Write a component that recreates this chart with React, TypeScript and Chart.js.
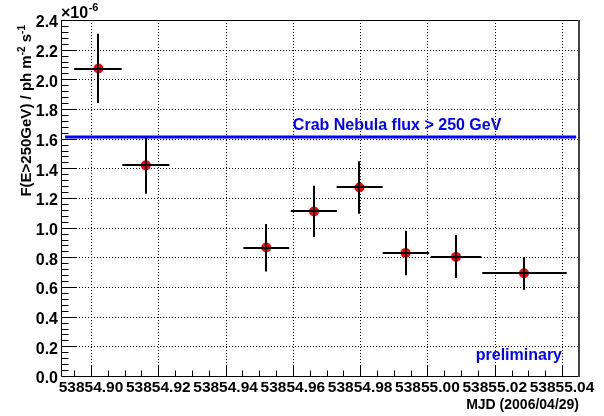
import React, { useEffect, useRef } from "react";
import { Chart, registerables } from "chart.js";

Chart.register(...registerables);

// ---- data (flux in units of 1e-6 ph m^-2 s^-1) ----
const xCenters = [53854.9022, 53854.9163, 53854.9521, 53854.9663, 53854.9798, 53854.9935, 53855.0085, 53855.0287];
const yValues = [2.073, 1.42, 0.866, 1.109, 1.271, 0.83, 0.803, 0.693];
const xLow = [53854.895, 53854.9093, 53854.9453, 53854.9594, 53854.973, 53854.9867, 53855.001, 53855.0163];
const xHigh = [53854.9091, 53854.9233, 53854.9589, 53854.9731, 53854.9867, 53855.0005, 53855.016, 53855.0414];
const yLow = [1.841, 1.229, 0.704, 0.937, 1.094, 0.68, 0.66, 0.581];
const yHigh = [2.307, 1.607, 1.024, 1.283, 1.447, 0.979, 0.95, 0.801];

const crabFlux = 1.612;
const crabLineX = [53854.8923, 53855.0442];
const crabLabel = "Crab Nebula flux > 250 GeV";
const prelimLabel = "preliminary";

const xTickValues = [53854.9, 53854.92, 53854.94, 53854.96, 53854.98, 53855.0, 53855.02, 53855.04];
const yTickValues = [0, 0.2, 0.4, 0.6, 0.8, 1.0, 1.2, 1.4, 1.6, 1.8, 2.0, 2.2, 2.4];
const xMin = 53854.89108;
const xMax = 53855.04505;
const yMin = 0;
const yMax = 2.4;
const xMinorStep = 0.005;
const yMinorStep = 0.04;

const xTitle = "MJD (2006/04/29)";
const yTitleParts = [
  { t: "F(E>250GeV) / ph m", sup: false },
  { t: "-2", sup: true },
  { t: " s", sup: false },
  { t: "-1", sup: true },
];

const FONT = '"Liberation Sans", Arial, Helvetica, sans-serif';
const BLUE = "#0000ff";

const rootPlugin = {
  id: "rootStyle",
  beforeDatasetsDraw(chart: any) {
    const { ctx, chartArea: a, scales } = chart;
    const x = scales.x, y = scales.y;
    ctx.save();
    ctx.strokeStyle = "#000";
    ctx.lineWidth = 1;
    ctx.setLineDash([1, 2]);
    xTickValues.forEach((v) => {
      const px = Math.round(x.getPixelForValue(v)) + 0.5;
      ctx.beginPath();
      ctx.moveTo(px, a.top);
      ctx.lineTo(px, a.bottom);
      ctx.stroke();
    });
    yTickValues.forEach((v) => {
      if (v <= yMin || v >= yMax) return;
      const py = Math.round(y.getPixelForValue(v)) + 0.5;
      ctx.beginPath();
      ctx.moveTo(a.left, py);
      ctx.lineTo(a.right, py);
      ctx.stroke();
    });
    ctx.restore();
  },
  afterDatasetsDraw(chart: any) {
    const { ctx, scales } = chart;
    const x = scales.x, y = scales.y;
    ctx.save();
    ctx.strokeStyle = "#000";
    ctx.lineWidth = 2;
    for (let i = 0; i < xCenters.length; i++) {
      const cx = Math.round(x.getPixelForValue(xCenters[i]));
      const cy = Math.round(y.getPixelForValue(yValues[i]));
      ctx.beginPath();
      ctx.moveTo(x.getPixelForValue(xLow[i]), cy);
      ctx.lineTo(x.getPixelForValue(xHigh[i]), cy);
      ctx.moveTo(cx, y.getPixelForValue(yLow[i]));
      ctx.lineTo(cx, y.getPixelForValue(yHigh[i]));
      ctx.stroke();
    }
    ctx.restore();
  },
  afterDraw(chart: any) {
    const { ctx, chartArea: a, scales } = chart;
    const x = scales.x, y = scales.y;
    ctx.save();
    // minor/major ticks
    ctx.strokeStyle = "#000";
    ctx.lineWidth = 1;
    const nx0 = Math.ceil(xMin / xMinorStep - 1e-6);
    const nx1 = Math.floor(xMax / xMinorStep + 1e-6);
    for (let n = nx0; n <= nx1; n++) {
      const v = n * xMinorStep;
      const major = xTickValues.some((t) => Math.abs(t - v) < 1e-6);
      const px = Math.round(x.getPixelForValue(v)) + 0.5;
      ctx.beginPath();
      ctx.moveTo(px, a.bottom);
      ctx.lineTo(px, a.bottom - (major ? 11 : 5.5));
      ctx.stroke();
    }
    const ny1 = Math.round(yMax / yMinorStep);
    for (let n = 1; n < ny1; n++) {
      const v = n * yMinorStep;
      const major = yTickValues.some((t) => Math.abs(t - v) < 1e-6);
      const py = Math.round(y.getPixelForValue(v)) + 0.5;
      ctx.beginPath();
      ctx.moveTo(a.left, py);
      ctx.lineTo(a.left + (major ? 15 : 7.5), py);
      ctx.stroke();
    }
    // frame
    ctx.beginPath();
    ctx.moveTo(Math.round(a.left) + 0.5, a.top);
    ctx.lineTo(Math.round(a.left) + 0.5, a.bottom + 0.5);
    ctx.lineTo(a.right, a.bottom + 0.5);
    ctx.moveTo(a.left, Math.round(a.top) + 0.5);
    ctx.lineTo(a.right, Math.round(a.top) + 0.5);
    ctx.stroke();
    ctx.strokeStyle = "#444";
    ctx.lineWidth = 2;
    ctx.beginPath();
    ctx.moveTo(a.right, a.top);
    ctx.lineTo(a.right, a.bottom + 1);
    ctx.stroke();

    // annotations
    ctx.fillStyle = BLUE;
    ctx.font = `bold 16px ${FONT}`;
    ctx.textAlign = "left";
    ctx.textBaseline = "alphabetic";
    ctx.fillText(crabLabel, x.getPixelForValue(xTickValues[3]), y.getPixelForValue(crabFlux) - 7);
    ctx.textAlign = "right";
    ctx.font = `bold 16px ${FONT}`;
    ctx.fillText(prelimLabel, x.getPixelForValue(xTickValues[7]), a.bottom - 16);

    // exponent
    ctx.fillStyle = "#000";
    ctx.textAlign = "left";
    ctx.font = `bold 16px ${FONT}`;
    const base = "\u00d710";
    ctx.fillText(base, a.left, a.top - 2);
    const bw = ctx.measureText(base).width;
    ctx.font = `bold 11px ${FONT}`;
    ctx.fillText("-6", a.left + bw + 0.5, a.top - 9);

    // x title
    ctx.font = `bold 14px ${FONT}`;
    ctx.textAlign = "right";
    ctx.fillText(xTitle, a.right, 409);

    // y title (rotated, right-aligned at top)
    const mainF = `bold 15px ${FONT}`;
    const supF = `bold 10px ${FONT}`;
    let total = 0;
    yTitleParts.forEach((p) => {
      ctx.font = p.sup ? supF : mainF;
      total += ctx.measureText(p.t).width;
    });
    ctx.translate(31, 25 + total);
    ctx.rotate(-Math.PI / 2);
    ctx.textAlign = "left";
    let cx = 0;
    yTitleParts.forEach((p) => {
      ctx.font = p.sup ? supF : mainF;
      ctx.fillText(p.t, cx, p.sup ? -6 : 0);
      cx += ctx.measureText(p.t).width;
    });
    ctx.restore();
  },
};

export default function App() {
  const ref = useRef<HTMLCanvasElement | null>(null);
  useEffect(() => {
    if (!ref.current) return;
    const points = xCenters.map((v, i) => ({ x: v, y: yValues[i] }));
    const crabLine = crabLineX.map((v) => ({ x: v, y: crabFlux }));
    const chart = new Chart(ref.current, {
      type: "scatter",
      data: {
        datasets: [
          {
            type: "line",
            data: crabLine,
            borderColor: BLUE,
            borderWidth: 3,
            pointRadius: 0,
            fill: false,
          } as any,
          {
            data: points,
            pointRadius: 5,
            pointBackgroundColor: "#ff0000",
            pointBorderColor: "#ff0000",
            pointBorderWidth: 0,
            pointHoverRadius: 5,
          },
        ],
      },
      options: {
        responsive: false,
        animation: false,
        devicePixelRatio: 1,
        events: [],
        layout: { padding: { top: 20, right: 25, left: 0, bottom: 0 } },
        plugins: { legend: { display: false }, tooltip: { enabled: false }, title: { display: false } },
        scales: {
          x: {
            type: "linear",
            min: xMin,
            max: xMax,
            grid: { display: false, drawTicks: false },
            border: { display: false },
            afterBuildTicks: (s: any) => {
              s.ticks = xTickValues.map((v) => ({ value: v }));
            },
            afterFit: (s: any) => {
              s.height = 40;
            },
            ticks: {
              autoSkip: false,
              maxRotation: 0,
              minRotation: 0,
              padding: 2,
              color: "#000",
              font: { family: FONT, size: 15.5, weight: "bold" },
              callback: (v: any) => Number(v).toFixed(2),
            },
          },
          y: {
            type: "linear",
            min: yMin,
            max: yMax,
            grid: { display: false, drawTicks: false },
            border: { display: false },
            afterBuildTicks: (s: any) => {
              s.ticks = yTickValues.map((v) => ({ value: v }));
            },
            afterFit: (s: any) => {
              s.width = 61;
            },
            ticks: {
              padding: 3,
              labelOffset: 3,
              color: "#000",
              font: { family: FONT, size: 16, weight: "bold" },
              callback: (v: any) => Number(v).toFixed(1),
            },
          },
        },
      },
      plugins: [rootPlugin],
    });
    return () => chart.destroy();
  }, []);
  return (
    <div style={{ position: "absolute", left: 0, top: 0, width: 604, height: 416, background: "#fff" }}>
      <canvas ref={ref} width={604} height={416} style={{ width: 604, height: 416, display: "block" }} />
    </div>
  );
}
